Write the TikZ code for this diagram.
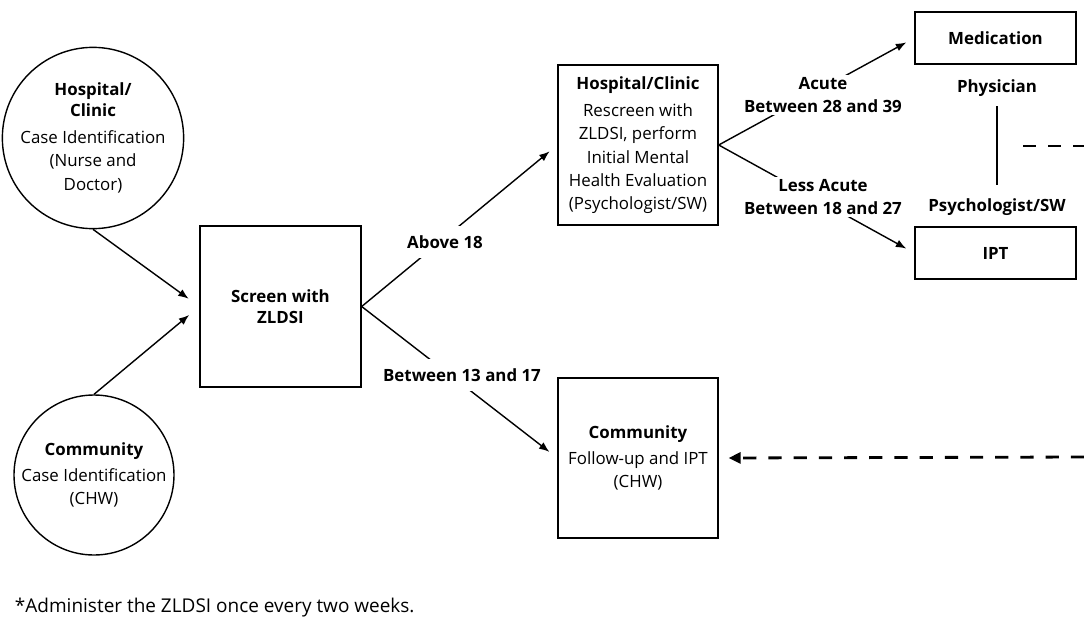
\documentclass[tikz,border=0pt]{standalone}
\usepackage{fontspec}
\setmainfont{Open Sans}
\usetikzlibrary{arrows.meta,calc}

\begin{document}
\begin{tikzpicture}[
		>={Latex[length=2.6mm,width=2mm]},
		font=\fontsize{12}{16.5}\selectfont,
		caixa/.style={
			draw,
			rectangle,
			minimum width=4cm,
			minimum height=4cm,
			align=center,
			line width=1pt
		},
		faixa/.style={
			draw,
			rectangle,
			minimum width=4.025cm,
			minimum height=1.3cm,
			align=center,
			line width=1pt,
			font=\fontsize{12}{16}\selectfont\bfseries
		},
		circulo/.style={
			draw,
			circle,
			minimum size=4.05cm,
			inner sep=0pt,
			line width=1pt,
			align=center
		},
		rotulo/.style={
			fill=white,
			align=center,
			inner xsep=1pt,
			inner ysep=4pt,
			font=\fontsize{12}{16}\selectfont\bfseries
		},
		seta/.style={->, line width=1pt, shorten >=0.25cm},
		tracejado/.style={line width=2pt, dash pattern=on 0.33cm off 0.3cm}
		]
		
		\useasboundingbox (0,0) rectangle (27.1,-15.525);
		
		\node[circulo] (circH) at (2.325,-3.45) {\textbf{Hospital/}\\[-2pt]\textbf{Clinic}\\[3pt]Case Identification\\(Nurse and\\Doctor)};
		\node[circulo, minimum size=4cm] (circC) at (2.35,-11.875) {\textbf{Community}\\[2pt]Case Identification\\(CHW)};
		
		\node[caixa, minimum width=4.025cm, minimum height=4.025cm] (scr) at (7.0125,-7.6625) {\textbf{Screen with}\\[-2pt]\textbf{ZLDSI}};
		
		\node[caixa] (hc) at (15.95,-3.625) {\textbf{Hospital/Clinic}\\[3pt]Rescreen with\\ZLDSI, perform\\Initial Mental\\Health Evaluation\\(Psychologist/SW)};
		\node[caixa] (cc) at (15.95,-11.45) {\textbf{Community}\\[2pt]Follow-up and IPT\\(CHW)};
		
		\node[faixa] (med) at (24.8875,-0.95) {Medication};
		\node[faixa] (ipt) at (24.8875,-6.325) {IPT};
		
		\node[font=\fontsize{12}{16}\selectfont\bfseries] (phys) at (24.925,-2.2) {Physician};
		\node[font=\fontsize{12}{16}\selectfont\bfseries] (psy) at (24.925,-5.175) {Psychologist/SW};
		
		\coordinate (d1) at (25.575,-3.65);
		\coordinate (d2) at (27.1,-3.65);
		\coordinate (d3) at (27.1,-11.425);
		
		%Linhas
		\draw[seta, shorten >=0.33cm] (circH.south) -- (scr.west);
		\draw[seta, shorten >=0.33cm] (circC.north) -- (scr.west);
		
		\draw[seta] (scr.east) -- (hc.west);
		\draw[seta] (scr.east) -- (cc.west);
		
		\draw[seta, shorten >=0.23cm] (hc.east) -- (med.west);
		\draw[seta, shorten >=0.23cm] (hc.east) -- (ipt.west);
		
		\draw[line width=1pt, shorten <=0.12cm, shorten >=0.22cm] (phys) -- (psy);
		
		\draw[tracejado] (d1) -- (d2);
		\draw[tracejado, -{Triangle[length=3mm,width=2.8mm]}, shorten >=0.25cm] (d3) -- (cc.east);
		
		\node[rotulo, inner ysep=7pt] (acima) at (11.125,-6.05) {Above 18};
		\node[rotulo, inner ysep=7pt] (entre) at (11.55,-9.375) {Between 13 and 17};
		\node[rotulo, inner ysep=2pt] (agudo) at (20.575,-2.375) {Acute\\Between 28 and 39};
		\node[rotulo, inner ysep=2pt] (menos) at (20.575,-4.925) {Less Acute\\Between 18 and 27};
		
		\node[anchor=west, font=\fontsize{13.5}{16}\selectfont] (nota) at (0.25,-15.2) {*Administer the ZLDSI once every two weeks.};
		
	\end{tikzpicture}
\end{document}
